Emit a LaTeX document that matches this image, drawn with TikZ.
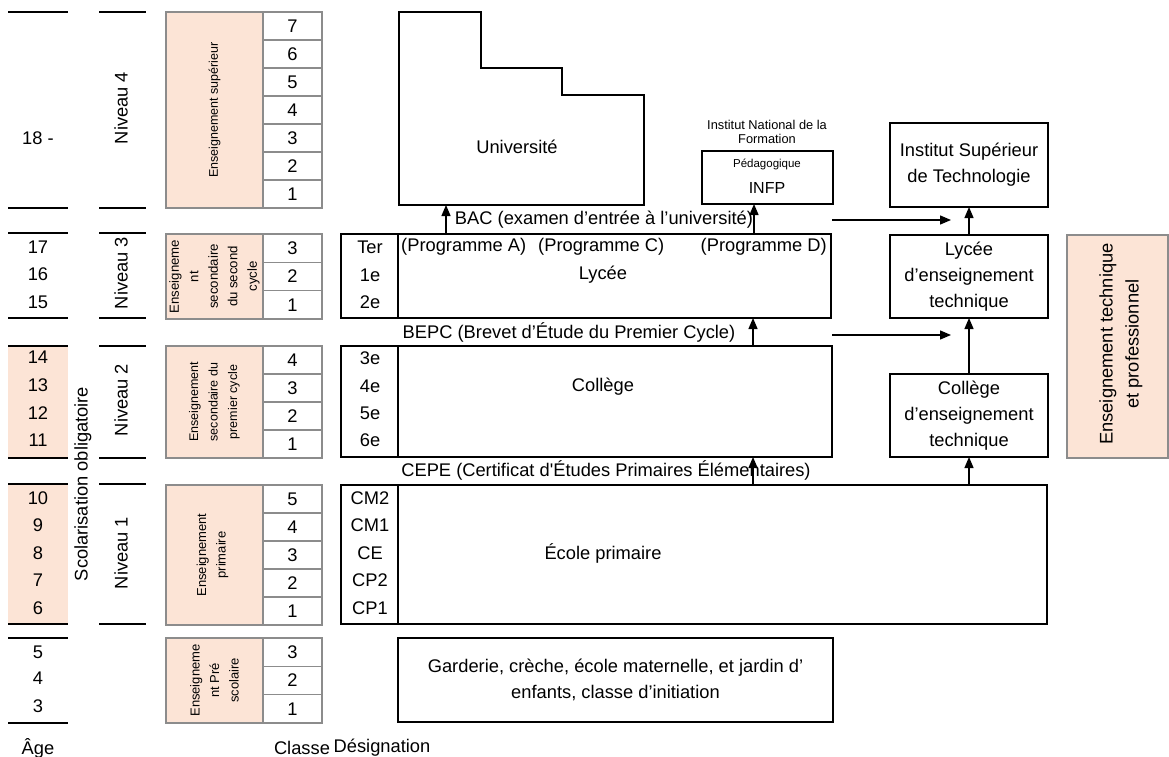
\documentclass[tikz,border=0pt]{standalone}
\usepackage{fontspec}
\setmainfont{Liberation Sans}
\usetikzlibrary{arrows.meta}
\definecolor{pinkc}{RGB}{252,228,214}
\definecolor{edgegray}{RGB}{140,140,140}
\begin{document}
\begin{tikzpicture}[x=1pt,y=-1pt,
  T/.style={font=\fontsize{18.3}{26}\selectfont, inner sep=0pt, align=center},
  smalltxt/.style={font=\fontsize{12.5}{19.5}\selectfont, inner sep=0pt, align=center},
  bbox/.style={draw=black, line width=2pt, inner sep=0pt, outer sep=0pt, align=center, font=\fontsize{18.3}{26}\selectfont},
  pinkbox/.style={draw=edgegray, line width=1.6pt, fill=pinkc, inner sep=0pt, outer sep=0pt},
  numcell/.style={draw=edgegray, line width=1.6pt, fill=white, inner sep=0pt, outer sep=0pt, font=\fontsize{18.3}{22}\selectfont},
  sepline/.style={line width=2pt},
  arr/.style={line width=1.3pt, -{Triangle[length=11pt,width=9pt]}}
]
\useasboundingbox (0,0) rectangle (1169,757);

% --- age column fills and separator lines
\fill[pinkc] (8,346) rectangle (68,458);
\fill[pinkc] (8,484) rectangle (68,624);
\foreach \y in {12,208,233,318,346,458,484,624,638,723} \draw[sepline] (8,\y) -- (68,\y);
\foreach \y in {12,208,233,318,346,458,484,624} \draw[sepline] (99,\y) -- (146,\y);

% --- ages
\node[T] (a18) at (38,138) {18 -};
\foreach \a/\y in {17/247,16/274,15/302,14/357,13/385,12/413,11/440,10/498,9/525,8/553,7/580,6/608,5/652,4/678,3/706}
  \node[T] (age\a) at (38,\y) {\a};
\node[T] (agehead) at (38,748) {Âge};

% --- niveaux
\node[T, rotate=90] (niv4) at (121,108) {Niveau 4};
\node[T, rotate=90] (niv3) at (121,273) {Niveau 3};
\node[T, rotate=90] (niv2) at (121,400) {Niveau 2};
\node[T, rotate=90] (niv1) at (121,553) {Niveau 1};
\node[T, rotate=90] (scol) at (83,484) {Scolarisation obligatoire};

% --- pink blocks
\node[pinkbox, minimum width=97, minimum height=196] (pk4) at (214.5,110) {};
\node[pinkbox, minimum width=97, minimum height=85] (pk3) at (214.5,276.5) {};
\node[pinkbox, minimum width=97, minimum height=112] (pk2) at (214.5,402) {};
\node[pinkbox, minimum width=97, minimum height=140] (pk1) at (214.5,555) {};
\node[pinkbox, minimum width=97, minimum height=85] (pk0) at (214.5,680.5) {};
\node[smalltxt, rotate=90] (pk4t) at (pk4) {Enseignement supérieur};
\node[smalltxt, rotate=90, font=\fontsize{13.2}{19.5}\selectfont] (pk3t) at (pk3) {Enseigneme\\nt\\secondaire\\du second\\cycle};
\node[smalltxt, rotate=90] (pk2t) at (pk2) {Enseignement\\secondaire du\\premier cycle};
\node[smalltxt, rotate=90, font=\fontsize{13}{19.5}\selectfont] (pk1t) at (212.5,555) {Enseignement\\primaire};
\node[smalltxt, rotate=90, font=\fontsize{13}{19.5}\selectfont] (pk0t) at (pk0) {Enseigneme\\nt Pré\\scolaire};

% --- number cells
\foreach \T/\B/\n/\lab in {12/208/7/a, 234/319/3/b, 346/458/4/c, 485/625/5/d, 638/723/3/e}{
  \pgfmathsetmacro{\h}{(\B-\T)/\n}
  \foreach \k in {1,...,\n}{
    \pgfmathtruncatemacro{\v}{\n-\k+1}
    \pgfmathsetmacro{\yc}{\T+(\k-0.5)*\h}
    \node[numcell, minimum width=59, minimum height=\h] (n\lab\v) at (292.5,\yc) {\v};
  }
}

% --- Université
\draw[line width=2pt] (399,12) -- (481,12) -- (481,68) -- (562,68) -- (562,95) -- (644,95) -- (644,205) -- (399,205) -- cycle;
\node[T] (univ) at (517,147) {Université};
\coordinate (univbot) at (446,205);

% --- INFP
\node[T, font=\fontsize{12.8}{14}\selectfont] (infplab) at (767,132) {Institut National de la\\Formation};
\node[bbox, minimum width=131, minimum height=53] (infp) at (767.5,177.5) {};
\node[T, font=\fontsize{11.5}{14}\selectfont] (peda) at (767,164) {Pédagogique};
\node[T, font=\fontsize{16}{18}\selectfont] (infpt) at (767,188) {INFP};
\coordinate (infparr) at (754,0);

% --- Institut Supérieur de Technologie and technical branch
\node[bbox, minimum width=158, minimum height=84] (ist) at (969,165) {Institut Supérieur\\de Technologie};
\node[bbox, minimum width=158, minimum height=83] (lyt) at (969,276.5) {Lycée\\d’enseignement\\technique};
\node[bbox, minimum width=158, minimum height=83] (cot) at (969,415.5) {Collège\\d’enseignement\\technique};
\node[pinkbox, minimum width=101, minimum height=223] (etp) at (1117.5,346.5) {};
\node[T, rotate=90] (etpt) at (1121,344) {Enseignement technique\\et professionnel};

% --- Lycée
\node[bbox, minimum width=490, minimum height=84] (lycee) at (586,276) {};
\draw[line width=2pt] ([xshift=57]lycee.north west) -- ([xshift=57]lycee.south west);
\node[T] (ter) at (370,247) {Ter};
\node[T] (c1e) at (370,275) {1e};
\node[T] (c2e) at (370,302) {2e};
\node[T, anchor=west] (pA) at (401,247) {(Programme A)};
\node[T, anchor=west] (pC) at (538,247) {(Programme C)};
\node[T, anchor=east] (pD) at (827,247) {(Programme D)};
\node[T] (lyct) at (603,275) {Lycée};
\node[T] (bac) at (604,220) {BAC (examen d’entrée à l’université)};

% --- Collège
\node[bbox, minimum width=491, minimum height=111] (college) at (586.5,401.5) {};
\draw[line width=2pt] ([xshift=57]college.north west) -- ([xshift=57]college.south west);
\node[T] (c3e) at (370,358) {3e};
\node[T] (c4e) at (370,386) {4e};
\node[T] (c5e) at (370,413) {5e};
\node[T] (c6e) at (370,440) {6e};
\node[T] (colt) at (603,387) {Collège};
\node[T] (bepc) at (569,332) {BEPC (Brevet d’Étude du Premier Cycle)};

% --- École primaire
\node[bbox, minimum width=706, minimum height=139] (ecole) at (694,554.5) {};
\draw[line width=2pt] ([xshift=57]ecole.north west) -- ([xshift=57]ecole.south west);
\node[T] (cm2) at (370,498) {CM2};
\node[T] (cm1) at (370,525) {CM1};
\node[T] (ce) at (370,553) {CE};
\node[T] (cp2) at (370,580) {CP2};
\node[T] (cp1) at (370,608) {CP1};
\node[T] (ecot) at (603,553) {École primaire};
\node[T] (cepe) at (606,470) {CEPE (Certificat d\textquotesingle Études Primaires Élémentaires)};

% --- Garderie
\node[bbox, minimum width=435, minimum height=84] (garderie) at (615.5,680) {Garderie, crèche, école maternelle, et jardin d’\\enfants, classe d’initiation};

% --- bottom headings
\node[T] (classe) at (302,748) {Classe};
\node[T] (design) at (382,748) {Désignation};

% --- arrows
\coordinate (midarr) at (753,0);
\draw[arr] (lycee.north -| univbot) -- (univbot);
\draw[arr] (lycee.north -| infparr) -- (infp.south -| infparr);
\draw[arr] (college.north -| midarr) -- (lycee.south -| midarr);
\draw[arr] (ecole.north -| midarr) -- (college.south -| midarr);
\coordinate (bacR) at (832,220);
\coordinate (bacT) at (951,220);
\coordinate (bepcR) at (832,335);
\coordinate (bepcT) at (951,335);
\draw[arr] (bacR) -- (bacT);
\draw[arr] (bepcR) -- (bepcT);
\draw[arr] (lyt.north) -- (ist.south);
\draw[arr] (cot.north) -- (lyt.south);
\draw[arr] (ecole.north -| cot.south) -- (cot.south);
\end{tikzpicture}
\end{document}
